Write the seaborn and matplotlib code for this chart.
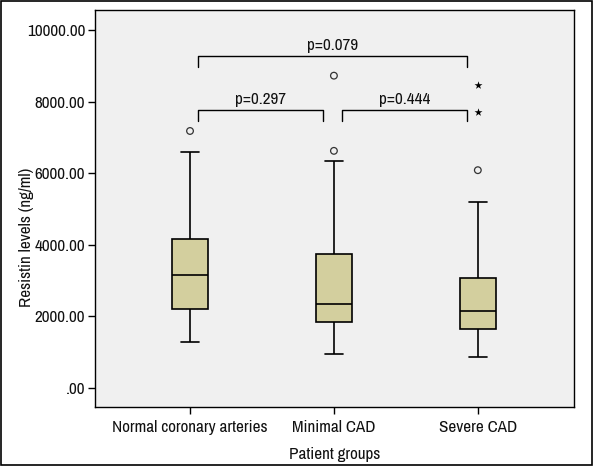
import numpy as np
import pandas as pd
import matplotlib
matplotlib.use('Agg')
import matplotlib.pyplot as plt
import seaborn as sns
from matplotlib.patches import Rectangle

groups = ['Normal coronary arteries', 'Minimal CAD', 'Severe CAD']
whisker_low = [1280, 950, 875]
q1 = [2205, 1840, 1645]
median = [3160, 2345, 2150]
q3 = [4160, 3740, 3070]
whisker_high = [6600, 6335, 5190]

outlier_group = ['Normal coronary arteries', 'Minimal CAD', 'Minimal CAD', 'Severe CAD']
outlier_value = [7180, 6625, 8725, 6085]
extreme_group = ['Severe CAD', 'Severe CAD']
extreme_value = [7710, 8455]

comparisons = [(0, 1), (1, 2), (0, 2)]
p_labels = ['p=0.297', 'p=0.444', 'p=0.079']

yticks = [0, 2000, 4000, 6000, 8000, 10000]
ytick_labels = ['.00', '2000.00', '4000.00', '6000.00', '8000.00', '10000.00']

# five values per group -> linear percentiles give back q1/median/q3 exactly
rows = []
for i, g in enumerate(groups):
    for v in [whisker_low[i], q1[i], median[i], q3[i], whisker_high[i]]:
        rows.append({'group': g, 'value': v})
box_df = pd.DataFrame(rows)

sns.set_style('ticks')
plt.rcParams['font.family'] = ['Liberation Sans Narrow', 'Archivo Narrow', 'DejaVu Sans']
fs = 12.3
text_color = '#111111'

fig = plt.figure(figsize=(5.94, 4.66), dpi=100)
ax = fig.add_axes([0.160, 0.1266, 0.806, 0.852])
ax.set_facecolor('#f0f0f0')

sns.boxplot(
    data=box_df,
    x='group',
    y='value',
    order=groups,
    width=0.25,
    whis=np.inf,
    color='#d3cf9e',
    saturation=1,
    linecolor='black',
    linewidth=1.2,
    ax=ax
)

sns.stripplot(
    x=outlier_group,
    y=outlier_value,
    order=groups,
    jitter=False,
    marker='o',
    size=4.8,
    color='#333333',
    facecolor='none',
    edgecolor='#333333',
    linewidth=0.9,
    ax=ax
)
sns.stripplot(
    x=extreme_group,
    y=extreme_value,
    order=groups,
    jitter=False,
    marker='*',
    size=6,
    color='black',
    linewidth=0,
    ax=ax
)

# significance brackets
levels = [7760, 7760, 9265]
drop = 310
for (i, j), lab, yb in zip(comparisons, p_labels, levels):
    x0 = i + 0.055
    x1 = j - 0.075
    ax.plot([x0, x0, x1, x1], [yb - drop, yb, yb, yb - drop], color='black', linewidth=1)
    ax.text((x0 + x1) / 2, yb + 90, lab, ha='center', va='bottom', fontsize=fs, color=text_color)

ax.set_xlim(-0.66, 2.667)
ax.set_ylim(-530, 10560)
ax.set_yticks(yticks)
ax.set_yticklabels(ytick_labels)

for s in ax.spines.values():
    s.set_visible(True)
    s.set_color('black')
    s.set_linewidth(1)
ax.tick_params(axis='both', direction='out', length=5, width=1, color='black',
               labelsize=fs, labelcolor=text_color, pad=2)
ax.tick_params(axis='x', pad=4)

ax.set_xlabel('Patient groups', fontsize=fs, color=text_color)
ax.set_ylabel('Resistin levels (ng/ml)', fontsize=fs, color=text_color)
ax.xaxis.set_label_coords(0.5, -0.1)
ax.yaxis.set_label_coords(-0.128, 0.428)

fig.patches.append(Rectangle((0.002, 0.002), 0.995, 0.995, transform=fig.transFigure,
                             fill=False, edgecolor='black', linewidth=1.2))

fig.savefig('out.png', dpi=100)
